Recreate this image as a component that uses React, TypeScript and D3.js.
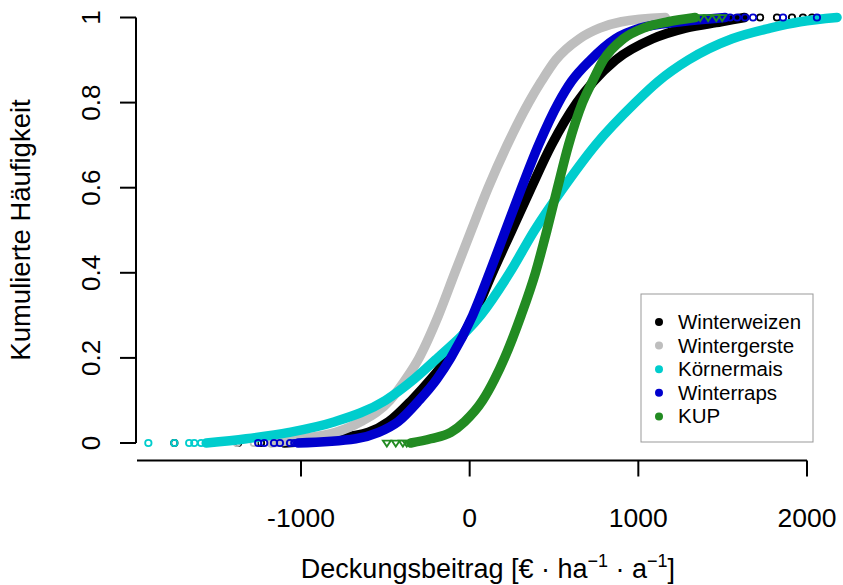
import * as d3 from 'd3';

const probs = [0, 0.01, 0.025, 0.05, 0.1, 0.15, 0.2, 0.3, 0.4, 0.5, 0.6, 0.7, 0.8, 0.85, 0.9, 0.95, 0.975, 0.99, 1];

// Deckungsbeitrag (EUR/ha/a) per probability level
const winterweizen = [-1100, -820, -600, -480, -345, -230, -130, 25, 135, 250, 365, 485, 635, 735, 865, 1085, 1280, 1490, 1630];
const wintergerste = [-1178, -1000, -793, -645, -473, -379, -300, -185, -88, 10, 110, 222, 350, 425, 510, 650, 770, 900, 1160];
const koernermais = [-1562, -1325, -1070, -800, -500, -330, -190, 65, 237, 385, 556, 745, 982, 1118, 1296, 1556, 1781, 1960, 2178];
const winterraps = [-1018, -675, -540, -425, -300, -195, -112, 18, 118, 213, 308, 408, 527, 604, 716, 864, 1012, 1250, 1515];
const kup = [-349, -231, -112, -30, 77, 148, 207, 305, 390, 458, 521, 586, 669, 728, 793, 911, 1030, 1178, 1337];

// isolated extreme observations (drawn as single symbols)
const winterweizenLow = [-1751, -1373, -1237];
const winterweizenHigh = [1722, 1822, 1911, 1976, 2030];
const wintergersteLow = [-1380, -1280];
const wintergersteHigh: number[] = [];
const koernermaisLow = [-1905, -1751, -1663, -1633, -1592];
const koernermaisHigh: number[] = [];
const winterrapsLow = [-1254, -1218, -1160, -1125, -1065, -1040];
const winterrapsHigh = [1544, 1586, 1633, 1680, 1858, 2059];
const kupLow = [-491, -438, -396, -373];
const kupHigh = [1367, 1414, 1462, 1497];

const xTicks = [-1000, 0, 1000, 2000];
const yTicks = [0, 0.2, 0.4, 0.6, 0.8, 1];

interface Series {
  name: string;
  color: string;
  values: number[];
  low: number[];
  high: number[];
  triangle?: boolean;
}

const series: Series[] = [
  { name: 'Winterweizen', color: '#000000', values: winterweizen, low: winterweizenLow, high: winterweizenHigh },
  { name: 'Wintergerste', color: '#BEBEBE', values: wintergerste, low: wintergersteLow, high: wintergersteHigh },
  { name: 'Körnermais', color: '#00CDCD', values: koernermais, low: koernermaisLow, high: koernermaisHigh },
  { name: 'Winterraps', color: '#0000CD', values: winterraps, low: winterrapsLow, high: winterrapsHigh },
  { name: 'KUP', color: '#228B22', values: kup, low: kupLow, high: kupHigh, triangle: true },
];

const width = 843;
const height = 585;
const font = '"Liberation Sans", Arial, sans-serif';

const App = () => {
  const x = d3.scaleLinear().domain([-1000, 2000]).range([301, 807]);
  const y = d3.scaleLinear().domain([0, 1]).range([443, 17.5]);
  const axisY = 460.5;
  const axisX = 136;

  const line = d3
    .line<[number, number]>()
    .x((d) => x(d[0]))
    .y((d) => y(d[1]))
    .curve(d3.curveMonotoneX);

  const marker = (s: Series, v: number, p: number, key: string) => {
    const cx = x(v);
    const cy = y(p);
    if (s.triangle) {
      const r = 4;
      const d = `M${cx - r},${cy - r * 0.6}L${cx + r},${cy - r * 0.6}L${cx},${cy + r * 0.9}Z`;
      return <path key={key} d={d} fill="none" stroke={s.color} strokeWidth={1.8} />;
    }
    return <circle key={key} cx={cx} cy={cy} r={3.2} fill="none" stroke={s.color} strokeWidth={1.8} />;
  };

  return (
    <svg width={width} height={height} style={{ position: 'absolute', left: 0, top: 0, background: '#fff' }}>
      {/* curves */}
      {series.map((s) => (
        <g key={s.name}>
          <path
            d={line(s.values.map((v, i) => [v, probs[i]] as [number, number])) ?? ''}
            fill="none"
            stroke={s.color}
            strokeWidth={9.5}
            strokeLinecap="round"
            strokeLinejoin="round"
          />
          {s.low.map((v, i) => marker(s, v, 0, `l${i}`))}
          {s.high.map((v, i) => marker(s, v, 1, `h${i}`))}
        </g>
      ))}

      {/* x axis */}
      <g stroke="#000" strokeWidth={2}>
        <line x1={137} x2={x(2000)} y1={axisY} y2={axisY} />
        {xTicks.map((t) => (
          <line key={t} x1={x(t)} x2={x(t)} y1={axisY} y2={axisY + 16} />
        ))}
      </g>
      {xTicks.map((t) => (
        <text key={t} x={x(t)} y={527} textAnchor="middle" fontFamily={font} fontSize={26.5}>
          {t < 0 ? `-${Math.abs(t)}` : t}
        </text>
      ))}

      {/* y axis */}
      <g stroke="#000" strokeWidth={2}>
        <line x1={axisX} x2={axisX} y1={y(0)} y2={y(1)} />
        {yTicks.map((t) => (
          <line key={t} x1={axisX - 16} x2={axisX} y1={y(t)} y2={y(t)} />
        ))}
      </g>
      {yTicks.map((t) => (
        <text
          key={t}
          transform={`translate(100,${y(t)}) rotate(-90)`}
          textAnchor="middle"
          fontFamily={font}
          fontSize={26}
        >
          {t}
        </text>
      ))}

      {/* axis titles */}
      <text transform="translate(30,230) rotate(-90)" textAnchor="middle" fontFamily={font} fontSize={27.5}>
        Kumulierte Häufigkeit
      </text>
      <text x={488} y={578} textAnchor="middle" fontFamily={font} fontSize={27}>
        Deckungsbeitrag [€ · ha
        <tspan fontSize={18} dy={-11}>−1</tspan>
        <tspan dy={11}> · a</tspan>
        <tspan fontSize={18} dy={-11}>−1</tspan>
        <tspan dy={11}>]</tspan>
      </text>

      {/* legend */}
      <rect x={641} y={294} width={172} height={148} fill="#fff" stroke="#999" strokeWidth={1} />
      {series.map((s, i) => (
        <g key={s.name} transform={`translate(0,${322 + i * 23.6})`}>
          <circle cx={659} cy={0} r={4} fill={s.color} />
          <text x={678} y={7} fontFamily={font} fontSize={20.5}>
            {s.name}
          </text>
        </g>
      ))}
    </svg>
  );
};

export default App;
